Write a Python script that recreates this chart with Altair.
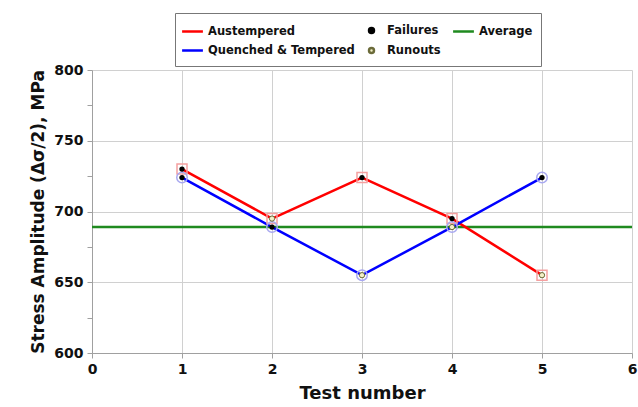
import altair as alt
import pandas as pd

tests = [1, 2, 3, 4, 5]
austempered = [730, 695, 724, 695, 655]
quenched = [724, 689, 655, 689, 724]
aus_status = ["Failures", "Runouts", "Failures", "Failures", "Runouts"]
qt_status = ["Failures", "Failures", "Runouts", "Runouts", "Failures"]
average = [689]
# column-major legend order: (Austempered, Q&T) | (Failures, Runouts) | (Average)
legend_keys = ["Austempered", "Quenched & Tempered", "Failures", "Runouts", "Average"]
x_ticks = [0, 1, 2, 3, 4, 5, 6]
y_ticks = [600, 625, 650, 675, 700, 725, 750, 775, 800]

RED = "#ff0000"
BLUE = "#0000ff"
GREEN = "#1f8a1f"
FONT = "DejaVu Sans"

df = pd.DataFrame({
    "test": tests + tests,
    "value": austempered + quenched,
    "series": ["Austempered"] * 5 + ["Quenched & Tempered"] * 5,
    "status": aus_status + qt_status,
})
df_avg = pd.DataFrame({"value": average})
df_leg = pd.DataFrame({"key": legend_keys})

x_enc = alt.X(
    "test:Q",
    scale=alt.Scale(domain=[0, 6], nice=False),
    axis=alt.Axis(
        values=x_ticks, title="Test number", format="d", labelFlush=False,
        titleFontSize=18, titleFont=FONT, titleFontWeight="bold", titleColor="#111",
        labelFontSize=14, labelFont=FONT, labelFontWeight="bold", labelColor="#111",
        labelPadding=4, titlePadding=8,
        grid=True, gridColor="#d0d0d0", domainColor="#a0a0a0", tickColor="#a0a0a0", tickSize=5,
    ),
)
y_enc = alt.Y(
    "value:Q",
    scale=alt.Scale(domain=[600, 800], nice=False, zero=False),
    axis=alt.Axis(
        values=y_ticks, title="Stress Amplitude (Δσ/2), MPa", labelFlush=False,
        labelExpr="datum.value % 50 == 0 ? datum.label : ''",
        titleFontSize=17, titleFont=FONT, titleFontWeight="bold", titleColor="#111",
        labelFontSize=14, labelFont=FONT, labelFontWeight="bold", labelColor="#111",
        labelPadding=4, titlePadding=6,
        grid=True, gridColor="#d0d0d0",
        gridOpacity={"condition": {"test": "datum.value % 50 == 0", "value": 1}, "value": 0},
        domainColor="#a0a0a0", tickColor="#a0a0a0", tickSize=5,
    ),
)

avg_rule = alt.Chart(df_avg).mark_rule(color=GREEN, strokeWidth=2.5).encode(y=y_enc)

red_line = alt.Chart(df).transform_filter(alt.datum.series == "Austempered").mark_line(
    color=RED, strokeWidth=2.5).encode(x=x_enc, y=y_enc)
blue_line = alt.Chart(df).transform_filter(alt.datum.series == "Quenched & Tempered").mark_line(
    color=BLUE, strokeWidth=2.5).encode(x=x_enc, y=y_enc)

red_marks = alt.Chart(df).transform_filter(alt.datum.series == "Austempered").mark_point(
    shape="square", filled=False, color="#f5a0a0", size=100, strokeWidth=1.5, opacity=1).encode(x=x_enc, y=y_enc)
blue_marks = alt.Chart(df).transform_filter(alt.datum.series == "Quenched & Tempered").mark_point(
    shape="circle", filled=False, color="#a8a8f0", size=110, strokeWidth=1.5, opacity=1).encode(x=x_enc, y=y_enc)

fail_dots = alt.Chart(df).transform_filter(alt.datum.status == "Failures").mark_point(
    shape="circle", filled=True, color="#000000", size=28, opacity=1).encode(x=x_enc, y=y_enc)
run_dots = alt.Chart(df).transform_filter(alt.datum.status == "Runouts").mark_point(
    shape="circle", filled=True, fill="#f4f0c8", stroke="#6b6b3a", strokeWidth=1, size=28, opacity=1).encode(x=x_enc, y=y_enc)

leg = alt.Legend(
    title=None, orient="none", legendX=83, legendY=-57, columns=3,
    symbolSize=256, symbolOpacity=1,
    labelFont=FONT, labelFontWeight="bold", labelFontSize=11.5, labelColor="#111",
    labelOffset=6, columnPadding=7, rowPadding=3,
    padding=8, strokeColor="#777777", fillColor="white",
)
line_path = "M-1.3,0H1.3"
circ = "M-0.31,0A0.31,0.31,0,1,1,0.31,0A0.31,0.31,0,1,1,-0.31,0Z"
legend_layer = alt.Chart(df_leg).mark_point(opacity=0).encode(
    x=alt.value(0), y=alt.value(0),
    stroke=alt.Stroke("key:N", scale=alt.Scale(domain=legend_keys, range=[RED, BLUE, "#000000", "#6b6b3a", GREEN]), legend=leg),
    fill=alt.Fill("key:N", scale=alt.Scale(domain=legend_keys, range=[RED, BLUE, "#000000", "#f4f0c8", GREEN]), legend=leg),
    shape=alt.Shape("key:N", scale=alt.Scale(domain=legend_keys, range=[line_path, line_path, circ, circ, line_path]), legend=leg),
    strokeWidth=alt.StrokeWidth("key:N", scale=alt.Scale(domain=legend_keys, range=[2.5, 2.5, 1.2, 1, 2.5]), legend=leg),
)

chart = alt.layer(
    avg_rule, red_line, blue_line, red_marks, blue_marks, fail_dots, run_dots, legend_layer
).properties(
    width=540, height=283,
    autosize=alt.AutoSizeParams(type="none"),
    padding={"left": 92, "top": 70, "right": 6, "bottom": 54},
    background="white",
).configure_view(stroke=None)

chart.save("out.html", embed_options={"renderer": "svg", "actions": False})
